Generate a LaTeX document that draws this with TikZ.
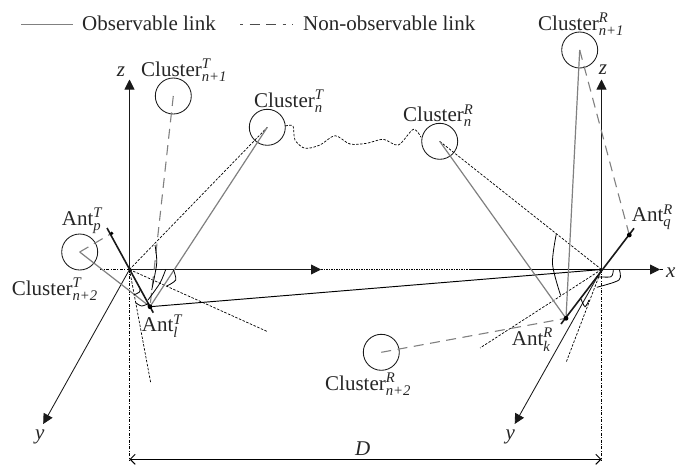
\documentclass[tikz,border=0pt]{standalone}
\usepackage{amsmath,amssymb}
\usepackage{fontspec}
\setmainfont{Liberation Serif}
\usetikzlibrary{arrows.meta}

\newcommand{\labtx}[3]{#1$^{\textit{#2}}_{\textit{#3}}$}

\begin{document}
\begin{tikzpicture}[x=1pt, y=-1pt, font=\fontsize{21}{25}\selectfont,
    cluster/.style={circle, draw=black!90, line width=0.85pt, minimum size=36pt, inner sep=0pt},
    txt/.style={anchor=base west, inner sep=0pt, text=black!85},
    axis/.style={line width=0.85pt, draw=black!90, -{Triangle[length=10pt, width=10pt]}},
    guide/.style={line width=0.7pt, dash pattern=on 3pt off 1.5pt on 0.8pt off 1.5pt},
    obs/.style={draw=black!50, line width=1.2pt},
    nonobs/.style={draw=black!50, line width=1.1pt, dash pattern=on 10pt off 6.5pt},
    aod/.style={line width=0.7pt, dash pattern=on 2.5pt off 1.5pt},
    anglearc/.style={line width=0.8pt},
    array/.style={line width=1.6pt, draw=black!90}]
  \useasboundingbox (0,0) rectangle (677,464);

  % origins and antennas
  \coordinate (oT) at (129.5, 269.5);
  \coordinate (oR) at (601.5, 269.5);
  \coordinate (antp) at (111.7, 233.3);
  \coordinate (antl) at (150, 306.7);
  \coordinate (antq) at (629.3, 235);
  \coordinate (antk) at (566, 318.3);
  \coordinate (arrTa) at (107, 228);
  \coordinate (arrTb) at (153.3, 312.7);
  \coordinate (arrRa) at (634, 228.3);
  \coordinate (arrRb) at (561, 324);

  % clusters
  \node[cluster] (clTa) at (173.3, 96) {};
  \node[cluster] (clTn) at (267.3, 127.3) {};
  \node[cluster] (clTb) at (79.7, 252) {};
  \node[cluster] (clRn) at (439.7, 141.3) {};
  \node[cluster] (clRa) at (579.7, 50) {};
  \node[cluster] (clRb) at (381.3, 352.3) {};

  % legend
  \coordinate (lega) at (21, 24);
  \coordinate (legb) at (73, 24);
  \coordinate (legc) at (240, 24);
  \coordinate (legd) at (293, 24);
  \draw[obs, line width=0.9pt] (lega) -- (legb);
  \draw[line width=0.9pt, draw=black!70, dash pattern=on 3pt off 6.5pt on 10pt off 6.5pt on 10pt off 6.5pt] (legc) -- (legd);
  \node[txt] at (82, 30) {Observable link};
  \node[txt] at (303, 30) {Non-observable link};

  % axes
  \coordinate (xmid) at (321, 269.5);
  \coordinate (xdot) at (470, 269.5);
  \coordinate (xend) at (660, 269.5);
  \coordinate (xlast) at (664, 269.5);
  \coordinate (xleft) at (100, 269.5);
  \coordinate (zT) at (129.5, 79.5);
  \coordinate (zR) at (601.5, 79.5);
  \coordinate (yT) at (43.2, 424);
  \coordinate (yR) at (514.7, 424);
  \coordinate (dT) at (129.5, 461);
  \coordinate (dR) at (601.5, 461);
  \coordinate (arrD) at (129.5, 459.3);
  \coordinate (arrE) at (601.5, 459.3);
  \draw[axis] (oT) -- (zT);
  \draw[axis] (oR) -- (zR);
  \draw[axis] (oT) -- (yT);
  \draw[axis] (oR) -- (yR);
  \draw[axis] (oT) -- (xmid);
  \draw[axis] (oR) -- (xend);
  \draw[line width=0.8pt, dash pattern=on 1.5pt off 1pt] (xmid) -- (xdot);
  \draw[line width=0.85pt] (xdot) -- (oR);
  \draw[guide] (xend) -- (xlast);
  \draw[guide] (oT) -- (xleft);
  \draw[guide] (oT) -- (dT);
  \draw[guide] (oR) -- (dR);
  \draw[line width=1pt, {Straight Barb[length=5pt, width=10pt]}-{Straight Barb[length=5pt, width=10pt]}] (arrD) -- (arrE);

  % angle-of-departure lines
  \coordinate (aodTa) at (267.7, 331.7);
  \coordinate (aodTb) at (150.7, 382.7);
  \coordinate (aodRa) at (480, 348);
  \coordinate (aodRb) at (566, 362.7);
  \draw[aod] (oT) -- (clTn.center);
  \draw[aod] (oT) -- (aodTa);
  \draw[aod] (oT) -- (aodTb);
  \draw[aod] (oR) -- (clRn.center);
  \draw[aod] (oR) -- (aodRa);
  \draw[aod] (oR) -- (aodRb);
  \draw[line width=0.95pt] (antl) -- (oR);

  % links
  \draw[obs] (clTn.center) -- (antl);
  \draw[obs] (clTb.center) -- (antl);
  \draw[obs] (clRn.center) -- (antk);
  \draw[obs] (clRa.center) -- (antk);
  \draw[nonobs] (clTa.center) -- (antl);
  \draw[nonobs] (clTb.center) -- (antp);
  \draw[nonobs] (clRa.center) -- (antq);
  \draw[nonobs] (clRb.center) -- (antk);

  % arrays
  \draw[array] (arrTa) -- (arrTb);
  \draw[array] (arrRa) -- (arrRb);
  \fill (antp) circle (1.8pt) (antl) circle (2.4pt) (antq) circle (2.4pt) (antk) circle (2.4pt);

  % angle marks
  \draw[anglearc] plot[smooth] coordinates {(155,245) (156.7,263.3) (151.7,290)};
  \draw[anglearc] plot[smooth] coordinates {(165.7,269.5) (160,283) (148,300)};
  \draw[anglearc] plot[smooth] coordinates {(173.3,269.5) (175.7,280) (166.7,286)};
  \draw[anglearc] plot[smooth] coordinates {(133.7,295) (139.5,292) (140,289)};
  \draw[anglearc] plot[smooth] coordinates {(135.7,302.7) (141.7,306) (149,303.3)};
  \draw[anglearc] plot[smooth] coordinates {(556.3,234) (552.5,264) (560.5,295)};
  \draw[anglearc] plot[smooth] coordinates {(613.3,269.5) (611,276.7) (596.7,276.7)};
  \draw[anglearc] plot[smooth] coordinates {(619.3,269.5) (619,280) (596.7,287.3)};
  \draw[anglearc] plot[smooth] coordinates {(581,299) (585,306.7) (589,300)};

  % scattering between the clusters
  \draw[aod] plot[smooth] coordinates {(285.3,126) (293,126) (295,140) (305,148.3) (320,145)
    (335,135.7) (350,144) (366.7,143.3) (383.3,139.3) (398.3,145) (413.3,129.3) (421,137.3)};

  % labels
  \node[txt] at (141, 76) {\labtx{Cluster}{T}{n+1}};
  \node[txt] at (254, 107) {\labtx{Cluster}{T}{n}};
  \node[txt] at (403, 121.7) {\labtx{Cluster}{R}{n}};
  \node[txt] at (538, 30) {\labtx{Cluster}{R}{n+1}};
  \node[txt] at (325, 390) {\labtx{Cluster}{R}{n+2}};
  \node[txt] at (11.7, 295) {\labtx{Cluster}{T}{n+2}};
  \node[txt] at (61.7, 225) {\labtx{Ant}{T}{p}};
  \node[txt] at (141.7, 331.7) {\labtx{Ant}{T}{l}};
  \node[txt] at (631.7, 221.7) {\labtx{Ant}{R}{q}};
  \node[txt] at (511.7, 345) {\labtx{Ant}{R}{k}};
  \node[txt] at (116.7, 76) {\textit{z}};
  \node[txt] at (598.7, 74) {\textit{z}};
  \node[txt] at (666, 277.7) {\textit{x}};
  \node[txt] at (35, 439) {\textit{y}};
  \node[txt] at (505.5, 439) {\textit{y}};
  \node[txt] at (355, 455) {\textit{D}};
\end{tikzpicture}
\end{document}
